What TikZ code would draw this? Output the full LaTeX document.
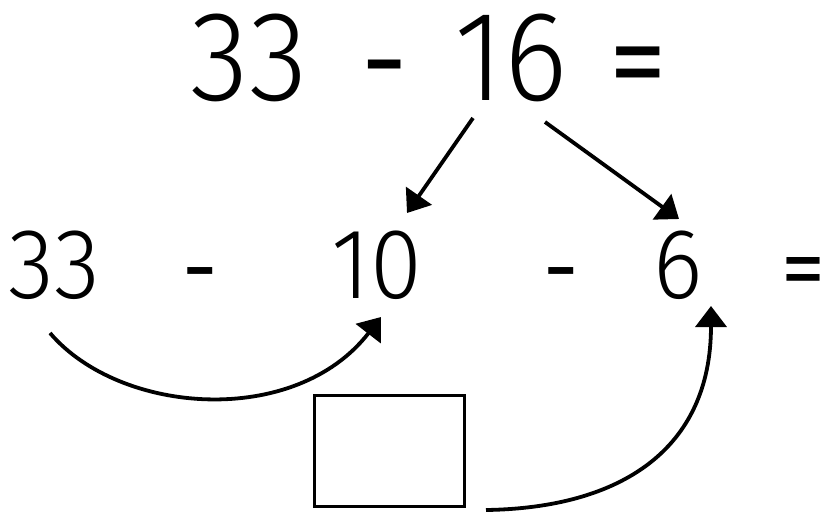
\documentclass[tikz,border=0pt]{standalone}
\usepackage{fontspec}
\setmainfont{Fira Sans Light}[FakeStretch=0.94]
\newfontfamily\opfont{Fira Sans}
\usetikzlibrary{arrows.meta}
\begin{document}
\begin{tikzpicture}[x=1pt,y=-1pt,
  bigtxt/.style={inner sep=0pt,anchor=base,font=\fontsize{128}{128}\selectfont},
  midtxt/.style={inner sep=0pt,anchor=base,font=\fontsize{100}{100}\selectfont},
  bigop/.style={inner sep=0pt,anchor=base,font=\opfont\fontsize{115}{115}\selectfont},
  midop/.style={inner sep=0pt,anchor=base,font=\opfont\fontsize{88}{88}\selectfont},
  arr/.style={line width=3.8pt,-{Triangle[length=21pt,width=31pt]}},
  answerbox/.style={draw,line width=3.5pt,minimum width=150pt,minimum height=111pt,inner sep=0pt}]
\useasboundingbox (0,0) rectangle (824,512);
% top row
\node[bigtxt] (t33) at (249,100) {33};
\node[bigop] (tminus) at (385,100) {-};
\node[bigtxt] (t16) at (511,100) {16};
\node[bigop] (teq) at (638,100) {=};
% second row
\node[midtxt] (a33) at (54,298) {33};
\node[midop] (am1) at (200,298) {-};
\node[midtxt] (a10) at (377,298) {10};
\node[midop] (am2) at (561,298) {-};
\node[midtxt] (a6) at (678,298) {6};
\node[midop] (aeq) at (803,298) {=};
% box
\node[answerbox] (box) at (389.5,451) {};
% arrow anchor coordinates
\coordinate (s1) at (473,118);
\coordinate (e1) at (407,213);
\coordinate (s2) at (545,122);
\coordinate (e2) at (679,219);
\coordinate (c1s) at (50,333);
\coordinate (c1e) at (381,317);
\coordinate (c2s) at (486,510);
\coordinate (c2e) at (711,306);
% arrows
\draw[arr] (s1) -- (e1);
\draw[arr] (s2) -- (e2);
\draw[arr] (c1s) .. controls (120,415) and (295,428) .. (c1e);
\draw[arr] (c2s) .. controls (620,508) and (711,450) .. (c2e);
\end{tikzpicture}
\end{document}
